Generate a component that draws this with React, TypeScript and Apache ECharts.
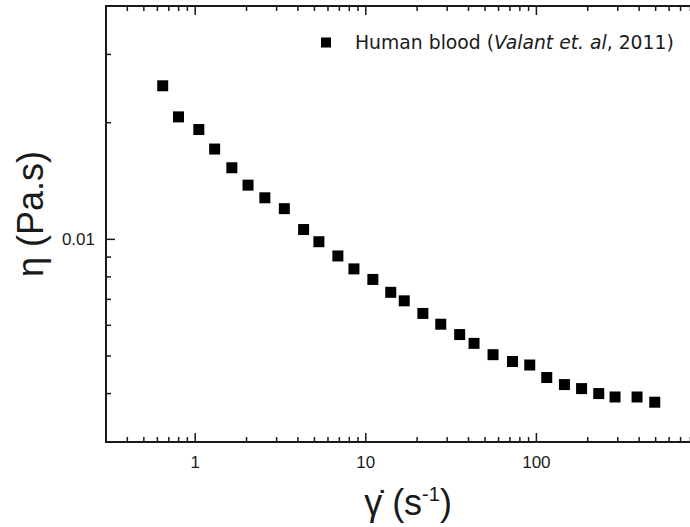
import React, { useEffect, useRef } from 'react';
import * as echarts from 'echarts';

// Shear rate (1/s) and viscosity (Pa.s)
const shearRate = [0.645, 0.798, 1.05, 1.30, 1.64, 2.04, 2.56, 3.33, 4.32, 5.31, 6.86, 8.52, 11.0, 14.0, 16.8, 21.6, 27.5, 35.5, 43.1, 55.7, 72.4, 91.4, 115, 146, 184, 232, 289, 389, 494];
const viscosity = [0.0249, 0.0207, 0.0192, 0.0171, 0.0153, 0.0138, 0.0128, 0.0120, 0.0106, 0.00986, 0.00906, 0.00839, 0.00788, 0.00730, 0.00694, 0.00644, 0.00604, 0.00568, 0.00539, 0.00504, 0.00484, 0.00474, 0.00440, 0.00422, 0.00412, 0.00400, 0.00392, 0.00392, 0.00380];

const xRange = [0.3, 1000];
const yRange = [0.003, 0.04];
const xMajorTicks = [1, 10, 100, 1000];
const xMinorTicks = [0.4, 0.5, 0.6, 0.7, 0.8, 0.9, 2, 3, 4, 5, 6, 7, 8, 9, 20, 30, 40, 50, 60, 70, 80, 90, 200, 300, 400, 500, 600, 700, 800, 900];
const yMajorTicks = [0.01];
const yMinorTicks = [0.004, 0.005, 0.006, 0.007, 0.008, 0.009, 0.02, 0.03];
const xTickLabels = ['1', '10', '100'];
const yTickLabels = ['0.01'];
const seriesName = 'Human blood';

const FONT = "'Liberation Sans', Arial, sans-serif";
const INK = '#1a1a1a';

function matchLabel(labels: string[], v: number) {
  const lv = Math.log10(v);
  const m = labels.find((l) => Math.abs(Math.log10(Number(l)) - lv) < 1e-6);
  return m ?? '';
}

export default function App() {
  const ref = useRef<HTMLDivElement>(null);
  useEffect(() => {
    if (!ref.current) return;
    const chart = echarts.init(ref.current, null, { renderer: 'svg' });

    const tickData: number[][] = [];
    xMajorTicks.forEach((v) => { tickData.push([v, yRange[0], 0, 1]); tickData.push([v, yRange[1], 1, 1]); });
    xMinorTicks.forEach((v) => { tickData.push([v, yRange[0], 0, 0]); tickData.push([v, yRange[1], 1, 0]); });
    yMajorTicks.forEach((v) => { tickData.push([xRange[0], v, 2, 1]); tickData.push([xRange[1], v, 3, 1]); });
    yMinorTicks.forEach((v) => { tickData.push([xRange[0], v, 2, 0]); tickData.push([xRange[1], v, 3, 0]); });

    chart.setOption({
      animation: false,
      backgroundColor: '#fff',
      grid: { left: 106, top: 6, width: 601, height: 436, show: true, borderColor: INK, borderWidth: 2, backgroundColor: 'transparent' },
      xAxis: {
        type: 'log', logBase: 10, min: xRange[0], max: xRange[1],
        axisLine: { show: false }, axisTick: { show: false }, splitLine: { show: false },
        axisLabel: { fontFamily: FONT, fontSize: 17, color: INK, margin: 12, formatter: (v: number) => matchLabel(xTickLabels, v) },
      },
      yAxis: {
        type: 'log', logBase: 10, min: yRange[0], max: yRange[1],
        axisLine: { show: false }, axisTick: { show: false }, splitLine: { show: false },
        axisLabel: { fontFamily: FONT, fontSize: 17, color: INK, margin: 11, formatter: (v: number) => matchLabel(yTickLabels, v) },
      },
      legend: {
        show: true, left: 321, top: 33, padding: 0,
        itemWidth: 48, itemHeight: 10,
        icon: 'path://M0,0L10,0L10,10L0,10Z',
        itemStyle: { opacity: 1, color: '#000' },
        data: [seriesName],
        formatter: () => '{n|Human blood (}{i|Valant et. al}{n|, 2011)}',
        textStyle: {
          fontFamily: "'DejaVu Sans', sans-serif", fontSize: 18.8, color: INK,
          rich: {
            n: { fontFamily: "'DejaVu Sans', sans-serif", fontSize: 18.8, color: INK },
            i: { fontFamily: "'DejaVu Sans', sans-serif", fontSize: 18.8, color: INK, fontStyle: 'italic' },
          },
        },
      },
      graphic: [
        {
          type: 'text', x: 30, y: 214, rotation: Math.PI / 2,
          style: { text: 'η (Pa.s)', fontFamily: FONT, fontSize: 36, fill: INK, align: 'center', verticalAlign: 'middle' },
        },
        {
          type: 'text', x: 408, y: 502,
          style: {
            text: '{g|γ̇} {n|(s}{s|-1}{n|)}', fontFamily: FONT, fontSize: 36, fill: INK, align: 'center', verticalAlign: 'middle',
            rich: {
              g: { fontFamily: FONT, fontSize: 36, fill: INK },
              n: { fontFamily: FONT, fontSize: 36, fill: INK },
              s: { fontFamily: FONT, fontSize: 20, fill: INK, verticalAlign: 'top' },
            },
          },
        },
      ],
      series: [
        {
          name: seriesName, type: 'scatter', symbol: 'rect', symbolSize: 11,
          itemStyle: { color: '#000', opacity: 1 },
          data: shearRate.map((x, i) => [x, viscosity[i]]),
          z: 3,
        },
        {
          name: 'ticks', type: 'custom', silent: true, z: 2,
          encode: { x: 0, y: 1 },
          renderItem: (params: any, api: any) => {
            const p = api.coord([api.value(0), api.value(1)]);
            const side = api.value(2);
            const len = api.value(3) ? 9 : 5;
            let x2 = p[0];
            let y2 = p[1];
            if (side === 0) y2 -= len;
            else if (side === 1) y2 += len;
            else if (side === 2) x2 += len;
            else x2 -= len;
            return { type: 'line', shape: { x1: p[0], y1: p[1], x2, y2 }, style: { stroke: INK, lineWidth: 1.5 } };
          },
          data: tickData,
        },
      ],
    });
    return () => chart.dispose();
  }, []);

  return (
    <div style={{ position: 'fixed', left: 0, top: 0, width: 690, height: 527, overflow: 'hidden', background: '#fff' }}>
      <div ref={ref} style={{ width: 720, height: 527 }} />
    </div>
  );
}
